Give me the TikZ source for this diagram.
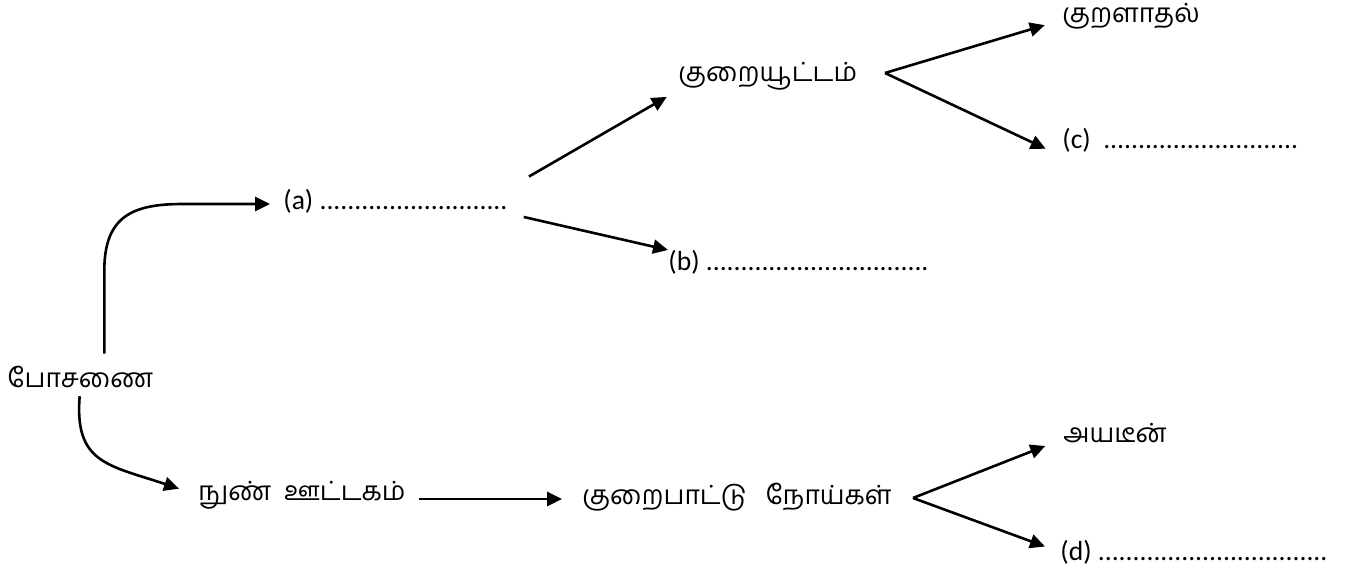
\documentclass[tikz,border=0pt]{standalone}
\usepackage{fontspec}
\setmainfont{Carlito}
\newfontfamily\tam[Script=Tamil]{Hind Madurai}
\usetikzlibrary{positioning, arrows.meta}

\tikzset{
	lat/.style={anchor=west, inner sep=0pt, font=\fontsize{13.8}{16}\selectfont},
	tml/.style={anchor=west, inner sep=0pt, font=\fontsize{13.2}{16}\selectfont\tam},
	arr/.style={-{Triangle[length=7.5pt, width=7pt]}, line width=1.3pt},
}

\begin{document}
\begin{tikzpicture}[x=0.5pt, y=-0.5pt]
	\useasboundingbox (0,0) rectangle (1348,576);

	\node[tml] (pos) at (7,377) {போசணை};
		\node[lat] (a) at (283,201) {(a) ...........................};
			\node[tml] (qy) at (678,76) {குறையூட்டம்};
				\node[tml] (kr) at (1062,16) {குறளாதல்};
				\node[lat] (c) at (1062,140) {(c)\ \ ............................};
			\node[lat] (b) at (668,262) {(b) ................................};
		\node[tml] (nu) at (198,495) {நுண்\ \ ஊட்டகம்};
			\node[tml] (kp) at (582,497) {குறைபாட்டு\ \ \ நோய்கள்};
				\node[tml] (ay) at (1063,433) {அயடீன்};
				\node[lat] (d) at (1060,552) {(d) .................................};

	\coordinate (f1) at (885,73);
	\coordinate (f2) at (913,498);

	\draw [arr, shorten <=6pt, shorten >=6.5pt]
		([xshift=12pt]pos.north) -- ++(0,-95) .. controls +(0,-55) and +(-50,0) .. ([xshift=-50pt, yshift=-1.5pt]a.west) -- ([yshift=-1.5pt]a.west);
	\draw [arr, shorten <=4pt, shorten >=10pt]
		(pos.south) .. controls +(-6,75) and +(-90,-30) .. (nu.west);

	\draw
		(a.north east) edge[arr, shorten <=12pt, shorten >=6.5pt] (qy.south west)
		(a.south east) edge[arr, shorten <=8pt, shorten >=0pt] ([yshift=6pt]b.west)
		(f1) edge[arr, shorten >=9pt] ([yshift=-2pt]kr.west)
		(f1) edge[arr, shorten >=9pt] ([yshift=-2pt]c.south west)
		([yshift=-2pt]nu.east) edge[arr, shorten <=6.5pt, shorten >=10pt] ([yshift=-2pt]nu.east -| kp.west)
		(f2) edge[arr, shorten >=9.5pt] ([yshift=-3pt]ay.west)
		(f2) edge[arr, shorten >=8pt] (d.west)
		;
\end{tikzpicture}
\end{document}
